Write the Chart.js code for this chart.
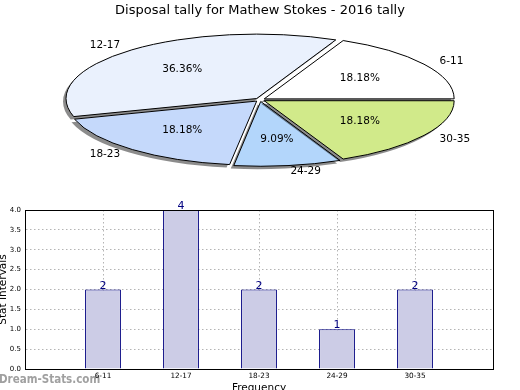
<!DOCTYPE html>
<html>
<head>
<meta charset="utf-8">
<script src="https://cdn.jsdelivr.net/npm/chart.js@4.4.1/dist/chart.umd.min.js"></script>
<style>
  html, body { margin: 0; padding: 0; background: #fff; overflow: hidden; }
  body { width: 520px; height: 390px; position: relative; }
  #pieChart { position: absolute; left: 0; top: 0; }
  #barChart { position: absolute; left: -5px; top: 195px; }
</style>
</head>
<body>
<canvas id="pieChart" width="520" height="190"></canvas>
<canvas id="barChart" width="525" height="200"></canvas>
<script>
// ===== データ =====
const chartTitle = 'Disposal tally for Mathew Stokes - 2016 tally';
const categories = ['6-11', '12-17', '18-23', '24-29', '30-35'];
const tally = [2, 4, 2, 1, 2];
const pieColors = ['#ffffff', '#eaf1fd', '#c5d9fb', '#b3d6fb', '#d1ea8a'];
const yTicks = [0, 0.5, 1, 1.5, 2, 2.5, 3, 3.5, 4];
const xLabel = 'Frequency';
const yLabel = 'Stat Intervals';
const watermark = 'Dream-Stats.com';

Chart.defaults.font.family = '"DejaVu Sans", sans-serif';
Chart.defaults.color = '#000';
Chart.defaults.animation = false;

// 楕円パイの半径 (横 / 縦) と explode
const RX = 189.5, RY = 64, EXPLODE = 20;

// ===== パイを楕円に潰す + 影 + ラベル =====
const ellipsePie = {
  id: 'ellipsePie',
  beforeDatasetsDraw(chart) {
    const ctx = chart.ctx;
    const arc = chart.getDatasetMeta(0).data[0];
    ctx.save();
    ctx.translate(arc.x, arc.y);
    ctx.scale(1, -RY / RX);   // 縦に潰して反転 (反時計回り)
    ctx.translate(-arc.x, -arc.y);
    ctx.shadowColor = 'rgba(0,0,0,0.45)';
    ctx.shadowOffsetX = -3;
    ctx.shadowOffsetY = 3;
    // 線幅が潰れないよう stroke だけ変換なしで描く (影なし)
    const stroke = CanvasRenderingContext2D.prototype.stroke;
    const dpr = chart.currentDevicePixelRatio;
    ctx.stroke = function () {
      this.save();
      this.setTransform(dpr, 0, 0, dpr, 0, 0);
      this.shadowColor = 'rgba(0,0,0,0)';
      stroke.call(this);
      this.restore();
    };
  },
  afterDatasetsDraw(chart) {
    const ctx = chart.ctx;
    delete ctx.stroke;
    ctx.restore();

    const meta = chart.getDatasetMeta(0);
    const total = tally.reduce((a, b) => a + b, 0);
    const k = RY / RX;
    const shift = EXPLODE / 4;
    ctx.save();
    ctx.fillStyle = '#000';
    ctx.font = '10.5px "DejaVu Sans"';
    ctx.textBaseline = 'middle';
    meta.data.forEach((arc, i) => {
      const mid = (arc.startAngle + arc.endAngle) / 2;
      const c = Math.cos(mid), s = Math.sin(mid);
      const at = r => [arc.x + c * r, arc.y - s * r * k];
      let [x, y] = at(shift + 1.1 * RX);
      ctx.textAlign = c > 0 ? 'left' : 'right';
      ctx.fillText(categories[i], x, y);
      [x, y] = at(shift + 0.6 * RX);
      ctx.textAlign = 'center';
      ctx.fillText((tally[i] / total * 100).toFixed(2) + '%', x, y);
    });
    ctx.restore();
  }
};

new Chart(document.getElementById('pieChart'), {
  type: 'pie',
  data: {
    labels: categories,
    datasets: [{
      data: tally,
      backgroundColor: pieColors,
      borderColor: '#000',
      borderWidth: 1,
      offset: EXPLODE,
      clip: false,
    }]
  },
  options: {
    responsive: false,
    events: [],
    rotation: 90,
    radius: RX,
    layout: { padding: { bottom: 9 } },
    plugins: {
      legend: { display: false },
      tooltip: { enabled: false },
      title: {
        display: true, text: chartTitle, color: '#000',
        font: { size: 13, weight: 'normal' },
        padding: { top: 3, bottom: 0 }
      }
    }
  },
  plugins: [ellipsePie]
});

// ===== 棒グラフ =====
const frameBox = {
  id: 'frameBox',
  afterDraw(chart) {
    const { ctx, chartArea: a } = chart;
    ctx.save();
    ctx.strokeStyle = '#000';
    ctx.lineWidth = 1;
    const l = Math.round(a.left) + 0.5, t = Math.round(a.top) + 0.5;
    const r = Math.round(a.right) + 0.5, b = Math.round(a.bottom) + 0.5;
    ctx.strokeRect(l, t, r - l, b - t);
    ctx.restore();
  }
};

const barValues = {
  id: 'barValues',
  afterDatasetsDraw(chart) {
    const ctx = chart.ctx;
    ctx.save();
    ctx.fillStyle = '#000080';
    ctx.font = '11px "DejaVu Sans"';
    ctx.textAlign = 'center';
    ctx.textBaseline = 'alphabetic';
    chart.getDatasetMeta(0).data.forEach((bar, i) => {
      ctx.fillText(String(tally[i]), bar.x, bar.y - 1);
    });
    ctx.restore();
  }
};

const stamp = {
  id: 'stamp',
  beforeDraw(chart) {
    const ctx = chart.ctx;
    ctx.save();
    ctx.fillStyle = '#a0a0a0';
    ctx.font = 'bold 11.5px "DejaVu Sans Condensed", "DejaVu Sans"';
    ctx.textAlign = 'left';
    ctx.textBaseline = 'alphabetic';
    ctx.fillText(watermark, 4, 188);
    ctx.restore();
  }
};

new Chart(document.getElementById('barChart'), {
  type: 'bar',
  data: {
    datasets: [{
      data: tally.map((v, i) => ({ x: i, y: v })),
      backgroundColor: '#ccccE6',
      borderColor: '#000080',
      borderWidth: 1,
      barPercentage: 0.46,
      categoryPercentage: 1,
    }]
  },
  options: {
    responsive: false,
    events: [],
    layout: { padding: { top: 15, right: 27, left: 0, bottom: 0 } },
    plugins: { legend: { display: false }, tooltip: { enabled: false } },
    scales: {
      x: {
        type: 'linear', min: -1, max: 5, z: 1, offset: false,
        afterBuildTicks: s => { s.ticks = categories.map((c, i) => ({ value: i })); },
        afterFit: s => { s.height = 26; },
        ticks: { callback: v => categories[v], font: { size: 7.3 }, padding: 3, maxRotation: 0, autoSkip: false },
        grid: { color: '#b4b4b4', drawTicks: false, offset: false },
        border: { color: '#000', dash: [1.5, 2.5] },
        title: { display: true, text: xLabel, font: { size: 10.5 }, padding: { top: 0, bottom: 0 } }
      },
      y: {
        min: 0, max: 4,
        afterBuildTicks: s => { s.ticks = yTicks.map(v => ({ value: v })); },
        afterFit: s => { s.width = 30; },
        ticks: { callback: v => v.toFixed(1), font: { size: 7 }, padding: 4 },
        grid: { color: '#b4b4b4', drawTicks: false },
        border: { color: '#000', dash: [1.5, 2.5] },
        title: { display: true, text: yLabel, font: { size: 10.5 }, padding: { top: 2, bottom: 0 } }
      }
    }
  },
  plugins: [frameBox, barValues, stamp]
});
</script>
</body>
</html>
